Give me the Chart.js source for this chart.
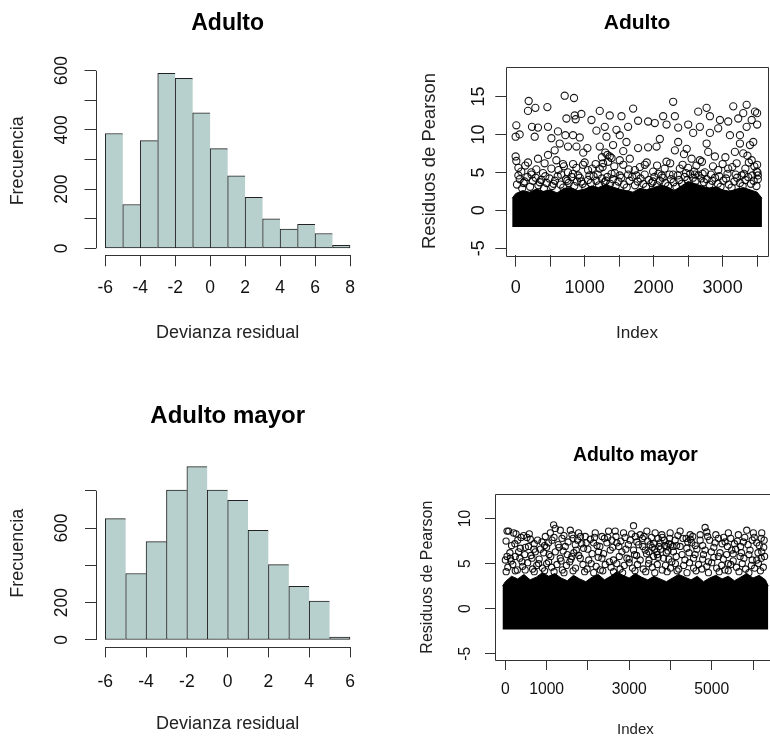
<!DOCTYPE html>
<html>
<head>
<meta charset="utf-8">
<script src="https://cdn.jsdelivr.net/npm/chart.js@4.4.1/dist/chart.umd.min.js"></script>
<style>
  html, body { margin:0; padding:0; background:#fff; width:770px; height:738px; overflow:hidden; position:relative; }
  canvas { position:absolute; }
</style>
</head>
<body>
<canvas id="histAdulto" width="385" height="369" style="left:0;top:0"></canvas>
<canvas id="resAdulto" width="400" height="369" style="left:385px;top:0"></canvas>
<canvas id="histMayor" width="385" height="369" style="left:0;top:369px"></canvas>
<canvas id="resMayor" width="400" height="372" style="left:385px;top:369px"></canvas>
<script>
// --- DATA ---
const adultoBreaks = [-6, -5, -4, -3, -2, -1, 0, 1, 2, 3, 4, 5, 6, 7, 8];
const adultoCounts = [388, 148, 364, 591, 574, 458, 337, 245, 172, 100, 65, 81, 50, 3];
const mayorBreaks = [-6, -5, -4, -3, -2, -1, 0, 1, 2, 3, 4, 5, 6];
const mayorCounts = [650, 356, 527, 803, 929, 803, 748, 587, 404, 287, 208, 7];

// tick positions and the labels R kept
const adultoHistXTicks = [-6, -4, -2, 0, 2, 4, 6, 8];
const adultoHistYTicks = [0, 100, 200, 300, 400, 500, 600];
const adultoHistYLabels = [0, 200, 400, 600];
const mayorHistXTicks = [-6, -4, -2, 0, 2, 4, 6];
const mayorHistYTicks = [0, 200, 400, 600, 800];
const mayorHistYLabels = [0, 200, 600];
const adultoIdxTicks = [0, 500, 1000, 1500, 2000, 2500, 3000, 3500];
const adultoIdxLabels = [0, 1000, 2000, 3000];
const adultoResTicks = [-5, 0, 5, 10, 15];
const mayorIdxTicks = [0, 1000, 2000, 3000, 4000, 5000, 6000];
const mayorIdxLabels = [0, 1000, 3000, 5000];
const mayorResTicks = [-5, 0, 5, 10];

// Pearson residuals vs index
const adultoN = 3517;
const adultoYlim = [-5, 18];
const adultoFloor = -2.2;
// top of the solid black mass (thousands of overlapping points)
const adultoBandIdx = [-50, 0, 100, 200, 300, 400, 500, 600, 700, 800, 900, 1000, 1100, 1200, 1300, 1400, 1500, 1600, 1700, 1800, 1900, 2000, 2100, 2200, 2300, 2400, 2500, 2600, 2700, 2800, 2900, 3000, 3100, 3200, 3300, 3400, 3500, 3570];
const adultoBandTop = [1.6, 2.2, 2.6, 2.4, 2.8, 2.5, 2.7, 2.3, 2.9, 3.0, 2.6, 2.8, 3.2, 3.0, 3.4, 3.1, 2.8, 2.6, 2.4, 2.9, 2.7, 3.0, 3.3, 3.1, 2.6, 3.2, 3.8, 3.5, 3.2, 2.9, 3.1, 2.7, 2.5, 2.8, 3.0, 2.7, 2.4, 1.6];
// individual points that stand out above the mass
const adultoPoints = [
  [189,14.4],[286,13.5],[179,13.1],[460,13.6],[711,15.1],[846,14.8],[736,12.1],[856,12.5],[870,12.0],[953,12.7],
  [10,11.2],[0,9.7],[58,10.0],[237,11.0],[324,10.9],[276,9.7],[469,11.0],[518,9.5],[614,10.4],[721,9.9],
  [832,9.9],[929,9.6],[1040,8.2],[1099,11.9],[639,8.8],[759,8.4],[566,7.9],[881,8.4],[0,7.1],[10,6.5],
  [179,6.3],[324,6.8],[469,7.3],[590,6.6],[686,6.1],[832,6.1],[977,6.0],[82,5.1],[228,5.0],[397,4.9],
  [518,5.5],[759,5.0],[905,4.6],[1050,5.3],
  [2283,14.3],[1703,13.4],[1219,13.1],[1364,12.5],[1534,12.4],[1775,11.8],[1920,11.7],[2017,11.5],[2138,12.4],[2187,11.3],
  [2308,12.4],[2356,10.9],[1630,11.0],[1461,10.6],[1292,11.0],[1171,10.5],[1316,9.7],[1509,9.9],[1606,9.0],[1412,8.6],
  [1219,8.4],[2090,9.4],[2356,9.0],[1775,8.2],[1920,8.3],[2042,8.4],[2308,7.9],[1364,7.1],[1267,6.2],[1509,6.6],
  [1655,6.8],[2187,6.4],[1872,6.0],[1219,5.5],[1727,5.3],[1993,5.1],[2380,5.5],[1437,4.9],[2115,4.6],[2283,4.7],
  [3154,13.7],[3348,13.9],[3469,13.0],[3500,12.8],[2646,13.0],[2768,13.5],[2816,12.4],[2961,11.9],[3081,11.7],[3226,12.1],
  [3299,12.8],[3421,11.9],[2501,11.3],[2670,11.0],[2573,10.2],[2816,10.2],[2936,10.8],[3106,9.9],[3251,9.9],[3348,11.0],
  [3500,11.3],[2768,8.8],[3251,8.8],[3396,8.6],[3444,9.0],[3178,7.7],[3299,7.5],[2791,7.7],[2550,6.8],[2670,6.6],
  [2888,7.1],[3421,6.6],[3500,6.0],[3203,6.2],[3081,5.5],[2936,5.3],[3493,5.1],[2743,5.0],[2598,4.7],[3275,4.6],[3510,4.6],
  [1330,7.3],[1390,6.9],[1300,7.6],[1560,7.8],[1250,7.0],[2480,8.1],[2440,7.4],[980,7.6],[3360,7.2],[3040,7.0],
  [20,3.4],[60,4.1],[95,2.9],[130,3.8],[170,4.4],[210,3.1],[250,3.9],[290,4.3],[330,3.3],[370,4.0],
  [410,2.9],[450,3.6],[490,4.2],[530,3.2],[570,3.9],[610,4.5],[650,3.4],[690,3.0],[730,4.1],[770,3.6],
  [810,4.4],[850,3.2],[890,3.8],[930,4.3],[970,3.5],[1010,3.0],[1050,4.0],[1090,3.6],[1130,4.5],[1170,3.9],
  [1210,3.3],[1250,4.2],[1290,3.7],[1330,4.4],[1370,3.5],[1410,4.1],[1450,3.2],[1490,3.8],[1530,4.3],[1570,3.4],
  [1610,3.0],[1650,3.9],[1690,4.4],[1730,3.3],[1770,3.8],[1810,4.2],[1850,3.5],[1890,3.1],[1930,4.0],[1970,3.6],
  [2010,4.4],[2050,3.3],[2090,3.9],[2130,4.3],[2170,3.6],[2210,3.2],[2250,4.1],[2290,3.7],[2330,3.1],[2370,4.0],
  [2410,3.5],[2450,4.4],[2490,4.0],[2530,4.8],[2570,4.3],[2610,3.9],[2650,4.6],[2690,4.2],[2730,3.7],[2770,4.1],
  [2810,3.4],[2850,3.9],[2890,4.3],[2930,3.5],[2970,3.1],[3010,3.9],[3050,4.2],[3090,3.4],[3130,3.0],[3170,3.8],
  [3210,4.3],[3250,3.6],[3290,3.2],[3330,4.0],[3370,4.4],[3410,3.5],[3450,3.9],[3490,3.2],[3510,4.1],
  [40,5.6],[140,5.9],[300,5.4],[420,6.2],[620,5.3],[700,5.8],[880,5.6],[1000,6.3],[1110,5.5],[1160,6.1],
  [1260,5.7],[1340,6.4],[1430,5.8],[1560,6.0],[1640,5.4],[1800,5.7],[1900,6.3],[2050,5.9],[2160,5.5],[2240,6.2],
  [2420,6.0],[2500,5.6],[2620,5.9],[2700,6.4],[2860,5.8],[3000,6.1],[3140,5.7],[3330,5.5],[3380,6.3],[3460,5.8],
  [40,4.6],[115,3.6],[230,4.7],[350,3.7],[430,4.5],[550,3.5],[660,4.7],[750,3.9],[830,4.8],[950,3.8],
  [1070,4.6],[1190,4.7],[1310,3.9],[1390,4.8],[1510,4.6],[1630,4.7],[1750,4.6],[1870,4.7],[1990,3.8],[2070,4.8],
  [2230,4.7],[2350,4.6],[2470,4.9],[2590,5.1],[2710,4.8],[2830,4.7],[2950,4.5],[3070,4.8],[3190,4.7],[3310,4.8],
  [3430,4.6],[3505,5.0]
];

const mayorN = 6300;
const mayorYlim = [-5, 12];
const mayorFloor = -2.3;
const mayorBandIdx = [-70, 0, 150, 300, 450, 600, 750, 900, 1050, 1200, 1350, 1500, 1650, 1800, 1950, 2100, 2250, 2400, 2550, 2700, 2850, 3000, 3150, 3300, 3450, 3600, 3750, 3900, 4050, 4200, 4350, 4500, 4650, 4800, 4950, 5100, 5250, 5400, 5550, 5700, 5850, 6000, 6150, 6300, 6370];
const mayorBandTop = [2.5, 3.0, 3.6, 3.3, 3.8, 3.2, 3.5, 4.0, 3.6, 3.9, 3.4, 3.1, 3.7, 3.3, 3.0, 3.5, 3.8, 3.2, 3.6, 4.1, 3.7, 3.4, 3.9, 3.5, 3.2, 3.6, 3.3, 3.0, 3.4, 3.8, 3.5, 3.2, 3.6, 3.0, 3.4, 3.7, 3.3, 3.6, 3.1, 3.5, 3.9, 3.4, 3.7, 3.2, 2.5];
const mayorPoints = [
  [80,8.6],[200,8.4],[41,8.6],[259,8.3],[17,7.5],[443,8.1],[525,7.9],[605,7.7],[363,6.7],[484,6.8],
  [322,6.3],[41,5.8],[121,5.6],[242,5.8],[0,5.4],[404,5.2],[968,8.0],[1089,8.4],[1210,8.9],[1169,9.3],
  [1331,8.7],[887,7.4],[1048,7.3],[1371,7.8],[1573,8.7],[1613,8.2],[1774,8.4],[1936,8.0],[1452,6.9],[1694,7.1],
  [1895,6.7],[1210,6.3],[927,6.2],[726,6.3],[645,5.6],[1331,5.6],[1613,5.8],[1815,5.6],[1048,5.2],[806,5.0],
  [3105,9.2],[2863,8.4],[2661,8.6],[2500,8.6],[2178,8.4],[2340,8.0],[3266,8.2],[3428,8.6],[3629,8.4],[3791,8.2],
  [3992,8.4],[4234,8.6],[4113,7.6],[3024,7.6],[3186,7.4],[2702,7.3],[2460,7.3],[2137,7.3],[3508,7.1],[3750,7.3],
  [3912,6.9],[3387,6.5],[3105,6.5],[2823,6.3],[2541,6.5],[2258,6.3],[3670,6.3],[4073,6.3],[4234,6.9],[3589,5.8],
  [3831,5.6],[2944,5.6],[2620,5.4],[2340,5.6],[3266,5.4],[4033,5.2],
  [4839,9.0],[4880,8.5],[4476,8.2],[5403,8.4],[5848,8.7],[6008,8.4],[6211,8.4],[5645,8.2],[5161,7.8],[4718,7.6],
  [4517,7.3],[5081,7.3],[5323,7.4],[5766,7.4],[6090,7.3],[6270,7.6],[4396,6.7],[4839,6.5],[5485,6.5],[5928,6.5],
  [6211,6.3],[4597,6.0],[5161,5.8],[5686,5.8],[6090,5.4],[4919,5.2],[5403,5.0],
  [150,7.0],[300,7.6],[560,6.9],[700,7.2],[850,6.6],[1000,6.8],[1130,7.6],[1280,7.1],[1400,6.4],[1520,7.4],
  [1660,6.2],[1750,7.6],[1850,7.2],[2000,6.6],[2060,7.7],[2220,7.0],[2400,7.8],[2580,7.6],[2750,6.9],[2900,7.9],
  [2980,7.1],[3150,8.0],[3320,7.8],[3450,7.5],[3560,6.8],[3700,7.8],[3850,7.6],[3960,7.2],[4150,7.0],[4300,7.8],
  [4420,7.4],[4600,7.0],[4780,7.0],[4950,7.6],[5050,6.8],[5250,7.2],[5380,6.9],[5550,7.2],[5700,6.9],[5880,7.1],
  [5980,7.6],[6150,7.0],[6260,6.8],
  [60,4.6],[180,4.9],[290,4.3],[420,4.7],[540,5.1],[660,4.4],[760,4.8],[900,4.5],[1000,5.0],[1120,4.6],
  [1250,4.9],[1380,4.3],[1480,4.8],[1560,5.2],[1700,4.5],[1880,4.9],[1980,4.4],[2080,5.0],[2200,4.7],[2300,4.3],
  [2420,4.9],[2560,4.6],[2700,5.0],[2780,4.4],[2880,4.8],[3000,5.1],[3080,4.5],[3200,4.9],[3340,4.4],[3470,5.0],
  [3560,4.6],[3680,4.9],[3800,4.3],[3880,4.8],[4000,4.5],[4120,5.0],[4200,4.4],[4320,4.8],[4460,5.1],[4560,4.5],
  [4680,4.9],[4760,4.4],[4880,4.7],[5000,5.1],[5120,4.5],[5240,4.8],[5320,4.3],[5460,4.9],[5600,4.6],[5740,5.0],
  [5820,4.4],[5960,4.8],[6040,4.5],[6130,5.0],[6250,4.6],
  [110,6.2],[230,7.2],[380,7.9],[470,6.0],[580,8.3],[690,6.6],[780,7.6],[950,7.0],[1060,6.0],[1180,7.9],
  [1300,6.8],[1420,8.1],[1500,6.0],[1640,7.8],[1720,6.5],[1820,8.0],[1960,7.3],[2100,6.1],[2160,7.9],[2290,6.9],
  [2380,6.1],[2480,7.9],[2600,6.8],[2680,8.0],[2800,7.5],[2920,6.6],[3060,8.3],[3130,6.0],[3230,7.1],[3360,8.0],
  [3420,6.1],[3540,7.9],[3620,6.6],[3720,6.9],[3800,7.9],[3900,6.2],[3980,7.8],[4060,6.9],[4180,8.1],[4280,6.0],
  [4380,7.8],[4450,6.2],[4540,8.0],[4640,6.6],[4720,8.2],[4800,6.0],[4900,8.0],[4990,6.3],[5100,8.2],[5200,6.2],
  [5290,7.9],[5360,6.0],[5460,7.8],[5520,6.1],[5620,7.5],[5720,6.2],[5800,7.9],[5900,6.0],[6030,7.9],[6120,6.2],
  [6200,7.8],[6280,5.8],
  [20,4.1],[240,4.2],[480,4.3],[700,4.1],[950,4.2],[1180,4.1],[1420,4.0],[1640,4.2],[1920,4.1],[2140,4.0],
  [2360,4.2],[2620,4.1],[2840,4.0],[3140,4.2],[3400,4.1],[3620,4.0],[3920,4.1],[4160,4.2],[4400,4.0],[4620,4.2],
  [4920,4.0],[5180,4.1],[5400,4.2],[5660,4.1],[5900,4.0],[6180,4.2],
  [140,5.3],[350,5.6],[620,5.9],[820,5.5],[1100,5.8],[1350,5.3],[1590,5.5],[1780,5.9],[2020,5.4],[2250,5.7],
  [2520,5.2],[2760,5.8],[3000,5.5],[3180,5.9],[3480,5.4],[3700,5.7],[3960,5.5],[4140,5.8],[4350,5.4],[4560,5.6],
  [4780,5.5],[5050,5.7],[5280,5.5],[5520,5.3],[5780,5.6],[5980,5.4],[6200,5.6],
  [3600,7.2],[3680,6.0],[3760,6.6],[3860,7.0],[3940,6.4],[4010,7.1],[3480,6.3],[3330,6.9],[4480,7.7],[5580,6.6]
];

// --- HELPERS ---
Chart.defaults.font.family = "'Liberation Sans', Arial, sans-serif";
Chart.defaults.color = '#111';

// R pads every axis range by 4% on each side
function rLim(lo, hi) {
    const d = (hi - lo) * 0.04;
    return [lo - d, hi + d];
}

// R style axes: line only between first and last tick, or a full box
const rAxes = {
    id: 'rAxes',
    afterDraw(chart, args, o) {
        const { ctx, chartArea: a, scales: { x, y } } = chart;
        ctx.save();
        ctx.strokeStyle = '#333';
        ctx.lineWidth = 1;
        ctx.beginPath();
        if (o.box) {
            ctx.rect(Math.round(a.left) + 0.5, Math.round(a.top) + 0.5, Math.round(a.width), Math.round(a.height));
        } else {
            const by = Math.round(a.bottom) + 0.5, lx = Math.round(a.left) + 0.5;
            ctx.moveTo(x.getPixelForValue(x.ticks[0].value), by);
            ctx.lineTo(x.getPixelForValue(x.ticks[x.ticks.length - 1].value), by);
            ctx.moveTo(lx, y.getPixelForValue(y.ticks[0].value));
            ctx.lineTo(lx, y.getPixelForValue(y.ticks[y.ticks.length - 1].value));
        }
        ctx.stroke();
        ctx.restore();
    }
};

function axis(o) {
    const shown = o.show || o.ticks;
    return {
        type: 'linear', min: o.lim[0], max: o.lim[1], offset: false,
        grid: { drawOnChartArea: false, drawTicks: true, tickLength: o.tl, color: '#333', lineWidth: 1, offset: false },
        border: { display: false },
        afterBuildTicks: s => { s.ticks = o.ticks.map(v => ({ value: v })); },
        ticks: {
            autoSkip: false, padding: o.pad, color: '#111',
            font: { size: o.font },
            minRotation: o.rot || 0, maxRotation: o.rot || 0,
            crossAlign: o.rot ? 'center' : 'near',
            callback: v => shown.includes(v) ? String(v) : ''
        },
        title: { display: true, text: o.title, color: '#222', font: { size: o.titleFont }, padding: o.titlePad },
        afterFit: s => { if (s.isHorizontal()) s.height = o.size; else s.width = o.size; }
    };
}

function baseOptions(p) {
    return {
        responsive: false, animation: false, events: [],
        layout: { padding: { left: 0, top: 0, right: p.padR, bottom: 0 }, autoPadding: false },
        plugins: {
            legend: { display: false },
            tooltip: { enabled: false },
            title: { display: true, text: p.title, fullSize: false, color: '#000',
                     font: { size: p.titleFont, weight: 'bold' }, padding: p.titlePad },
            rAxes: { box: p.box }
        },
        scales: { x: axis(p.x), y: axis(p.y) }
    };
}

function histChart(id, breaks, counts, p) {
    const last = counts.length - 1;
    new Chart(document.getElementById(id), {
        type: 'bar',
        data: {
            datasets: [{
                data: counts.map((c, i) => ({ x: (breaks[i] + breaks[i + 1]) / 2, y: c })),
                backgroundColor: '#b7cfcd',
                borderColor: '#222',
                borderWidth: ctx => ({ left: 1, top: 1, bottom: 1, right: ctx.dataIndex === last ? 1 : 0 }),
                borderSkipped: false,
                minBarLength: 3,
                barPercentage: 1,
                categoryPercentage: 1
            }]
        },
        options: baseOptions(p),
        plugins: [rAxes]
    });
}

function residChart(id, points, bandIdx, bandTop, floor, radius, p) {
    new Chart(document.getElementById(id), {
        type: 'scatter',
        data: {
            datasets: [
                {
                    type: 'scatter', order: 0,
                    data: points.map(pt => ({ x: pt[0], y: pt[1] })),
                    pointRadius: radius, pointBorderWidth: 1.1,
                    borderColor: 'rgba(0,0,0,0.9)', backgroundColor: 'rgba(0,0,0,0)'
                },
                {
                    type: 'line', order: 1,
                    data: bandIdx.map((v, i) => ({ x: v, y: bandTop[i] })),
                    fill: { value: floor }, backgroundColor: '#000',
                    borderColor: '#000', borderWidth: 1, pointRadius: 0, tension: 0
                }
            ]
        },
        options: baseOptions(p),
        plugins: [rAxes]
    });
}

// --- PANELS ---
histChart('histAdulto', adultoBreaks, adultoCounts, {
    title: 'Adulto', titleFont: 23, titlePad: { top: 9.9, bottom: 28.9 }, padR: 25.2, box: false,
    x: { lim: rLim(adultoBreaks[0], adultoBreaks[adultoBreaks.length - 1]), ticks: adultoHistXTicks,
         tl: 11, pad: 11.2, font: 17.5, size: 113.7,
         title: 'Devianza residual', titleFont: 18, titlePad: { bottom: 25.2 } },
    y: { lim: rLim(0, Math.max(...adultoCounts)), ticks: adultoHistYTicks, show: adultoHistYLabels,
         tl: 11, pad: 7.7, font: 17.5, rot: 90, size: 95.5,
         title: 'Frecuencia', titleFont: 18, titlePad: { top: 7.5 } }
});

histChart('histMayor', mayorBreaks, mayorCounts, {
    title: 'Adulto mayor', titleFont: 24, titlePad: { top: 33.3, bottom: 28.6 }, padR: 25.2, box: false,
    x: { lim: rLim(mayorBreaks[0], mayorBreaks[mayorBreaks.length - 1]), ticks: mayorHistXTicks,
         tl: 10.5, pad: 14.3, font: 17.5, size: 91.1,
         title: 'Devianza residual', titleFont: 18, titlePad: { bottom: 2.9 } },
    y: { lim: rLim(0, Math.max(...mayorCounts)), ticks: mayorHistYTicks, show: mayorHistYLabels,
         tl: 10.5, pad: 8.2, font: 17.5, rot: 90, size: 95.5,
         title: 'Frecuencia', titleFont: 18, titlePad: { top: 7.5 } }
});

residChart('resAdulto', adultoPoints, adultoBandIdx, adultoBandTop, adultoFloor, 3.6, {
    title: 'Adulto', titleFont: 21, titlePad: { top: 11.1, bottom: 30.4 }, padR: 17, box: true,
    x: { lim: rLim(1, adultoN), ticks: adultoIdxTicks, show: adultoIdxLabels,
         tl: 11.3, pad: 10.9, font: 18, size: 113.7,
         title: 'Index', titleFont: 17.2, titlePad: { bottom: 25.4 } },
    y: { lim: rLim(adultoYlim[0], adultoYlim[1]), ticks: adultoResTicks,
         tl: 10.7, pad: 6.6, font: 18, rot: 90, size: 121,
         title: 'Residuos de Pearson', titleFont: 18.4, titlePad: { top: 34 } }
});

residChart('resMayor', mayorPoints, mayorBandIdx, mayorBandTop, mayorFloor, 3.1, {
    title: 'Adulto mayor', titleFont: 19.4, titlePad: { top: 75.35, bottom: 26.65 }, padR: 9.2, box: true,
    x: { lim: rLim(1, mayorN), ticks: mayorIdxTicks, show: mayorIdxLabels,
         tl: 10, pad: 10.3, font: 15.7, size: 81,
         title: 'Index', titleFont: 15, titlePad: { bottom: 2 } },
    y: { lim: rLim(mayorYlim[0], mayorYlim[1]), ticks: mayorResTicks,
         tl: 10, pad: 10.6, font: 15.7, rot: 90, size: 110,
         title: 'Residuos de Pearson', titleFont: 16, titlePad: { top: 33.4 } }
});
</script>
</body>
</html>
